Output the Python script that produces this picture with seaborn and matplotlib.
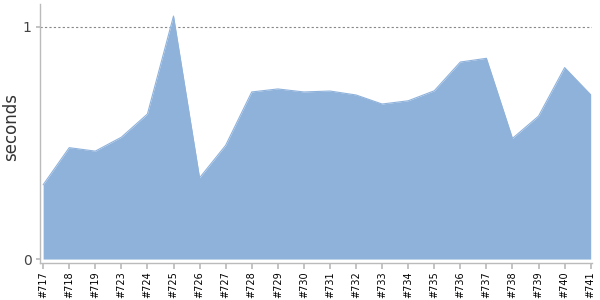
import matplotlib
matplotlib.use("Agg")
import matplotlib.pyplot as plt
import seaborn as sns
import numpy as np
import pandas as pd

builds = ["#717", "#718", "#719", "#723", "#724", "#725", "#726", "#727", "#728", "#729", "#730",
          "#731", "#732", "#733", "#734", "#735", "#736", "#737", "#738", "#739", "#740", "#741"]
seconds = [0.32, 0.48, 0.465, 0.525, 0.625, 1.047, 0.35, 0.49, 0.72, 0.733, 0.72,
           0.724, 0.707, 0.668, 0.682, 0.725, 0.849, 0.865, 0.52, 0.616, 0.825, 0.708]

sns.set_theme(style="white")
plt.rcParams['font.family'] = ['DejaVu Sans']

df = pd.DataFrame({"build": builds, "seconds": seconds, "pos": np.arange(len(builds))})

fig = plt.figure(figsize=(6, 3), dpi=100)
ax = fig.add_axes([40/600, 1 - 263/300, 552/600, 259/300])

fill_color = "#8fb2db"
sns.lineplot(data=df, x="pos", y="seconds", ax=ax, color=fill_color, linewidth=0.8)
ax.fill_between(df["pos"], df["seconds"], 0, color=fill_color, linewidth=0)

ax.set_xlim(-0.12, 21.05)
ax.set_ylim(-0.017, 1.099)

ax.set_xticks(df["pos"])
ax.set_xticklabels(builds, rotation=90, fontsize=7, color="black")
ax.set_yticks([0, 1])
ax.set_yticklabels(["0", "1"], fontsize=10, color="#444444")
ax.axhline(1, color="#888888", linestyle=(0, (2, 2)), linewidth=0.8, zorder=0)

ax.set_xlabel("")
ax.set_ylabel("seconds", fontsize=12, color="#333333")
ax.yaxis.set_label_coords((20 - 40) / 552, (263 - 127) / 259)

for s in ["top", "right"]:
    ax.spines[s].set_visible(False)
for s in ["left", "bottom"]:
    ax.spines[s].set_color("#bbbbbb")
    ax.spines[s].set_linewidth(1)

ax.tick_params(axis="x", which="both", bottom=True, length=4, color="#bbbbbb", pad=2)
ax.tick_params(axis="y", which="both", left=True, length=3, color="#bbbbbb", pad=3)
ax.grid(False)

fig.savefig("out.png", dpi=100)
